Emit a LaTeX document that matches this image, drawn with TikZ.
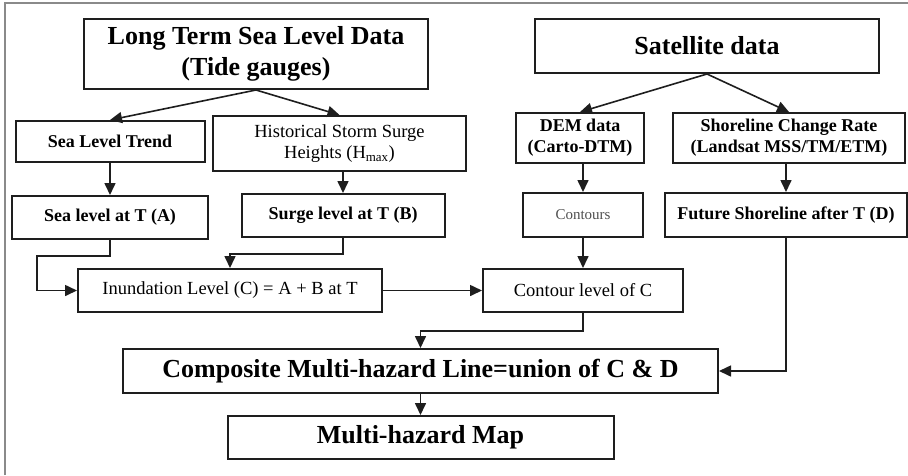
\documentclass[tikz,border=0pt]{standalone}
\usepackage{fontspec}
\setmainfont{Liberation Serif}
\usetikzlibrary{arrows.meta,positioning}
\definecolor{boxline}{HTML}{1E1E1E}
\definecolor{framegray}{HTML}{8A8A8A}
\definecolor{softgray}{HTML}{505050}

\begin{document}
\begin{tikzpicture}[
  x=1pt, y=-1pt,
  box/.style={draw=boxline, line width=2pt, fill=white, inner sep=0pt, align=center, font=\fontsize{18}{21}\selectfont\bfseries},
  plain/.style={box, font=\fontsize{18.5}{21}\selectfont},
  bigbox/.style={box, font=\fontsize{26}{31}\selectfont\bfseries},
  line/.style={-{Triangle[length=12pt,width=11pt]}, line width=1.6pt, draw=boxline}
]
\useasboundingbox (0,0) rectangle (908,475);
\draw[framegray, line width=1.5pt] (5,475) -- (5,3) -- (908,3);

\node[bigbox, minimum width=344pt, minimum height=70pt] (tide) at (256,54) {Long Term Sea Level Data\\(Tide gauges)};
\node[bigbox, minimum width=344pt, minimum height=54pt] (sat) at (707,46) {Satellite data};
\node[box, minimum width=189pt, minimum height=41pt] (trend) at (110,141.5) {Sea Level Trend};
\node[plain, minimum width=253pt, minimum height=55pt] (storm) at (339.5,143.5) {Historical Storm Surge\\Heights (H\textsubscript{max})};
\node[box, minimum width=128pt, minimum height=50pt] (dem) at (580,138) {DEM data\\(Carto-DTM)};
\node[box, minimum width=232pt, minimum height=50pt] (shore) at (789,138) {Shoreline Change Rate\\(Landsat MSS/TM/ETM)};
\node[box, minimum width=196pt, minimum height=43pt, below=32pt of trend] (sealevel) {Sea level at T (A)};
\node[box, minimum width=203pt, minimum height=43pt] (surge) at (343,215.5) {Surge level at T (B)};
\node[plain, minimum width=120pt, minimum height=44pt, font=\fontsize{15}{18}\selectfont, text=softgray] (contours) at (583,215) {Contours};
\node[box, minimum width=242pt, minimum height=44pt] (future) at (786,215) {Future Shoreline after T (D)};
\node[plain, minimum width=304pt, minimum height=43pt] (inund) at (230,290.5) {Inundation Level (C) = A + B at T};
\node[plain, minimum width=200pt, minimum height=43pt] (clevel) at (583,290.5) {Contour level of C};
\node[bigbox, minimum width=595pt, minimum height=44pt] (comp) at (420.5,371) {Composite Multi-hazard Line=union of C \& D};
\node[bigbox, minimum width=386pt, minimum height=43pt, below=21pt of comp] (map) {Multi-hazard Map};

\draw[line] (tide.south) -- (trend.north);
\draw[line] (tide.south) -- (storm.north);
\draw[line] (sat.south) -- (dem.north);
\draw[line] (sat.south) -- (shore.north);
\draw[line] (trend) -- (sealevel);
\draw[line] (storm.south -| surge.north) -- (surge.north);
\draw[line] (dem.south -| contours.north) -- (contours.north);
\draw[line] (shore.south -| future.north) -- (future.north);
\draw[line] (sealevel.south) -- ++(0,16) -| ([xshift=-40pt]inund.west) -- (inund.west);
\draw[line] (surge.south) -- ++(0,16) -| (inund.north);
\draw[line] (inund) -- (clevel);
\draw[line] (contours) -- (clevel);
\draw[line] (clevel.south) -- ++(0,18) -| (comp.north);
\draw[line] (future.south) |- (comp.east);
\draw[line] (comp) -- (map);
\end{tikzpicture}
\end{document}
